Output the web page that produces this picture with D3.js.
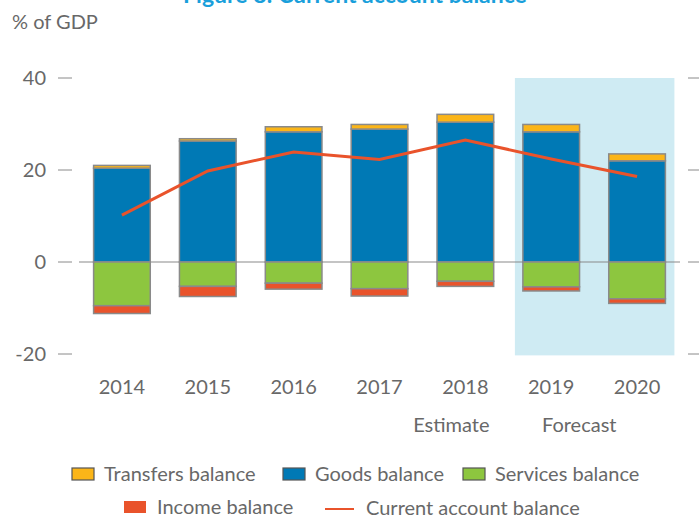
<!DOCTYPE html>
<meta charset="utf-8">
<script src="https://d3js.org/d3.v7.min.js"></script>
<style>
  body { margin: 0; background: #fff; }
  text { font-family: Lato, "Open Sans", sans-serif; fill: #686868; }
</style>
<div id="my_dataviz"></div>
<script>

  // data (% of GDP)
  var years = ["2014", "2015", "2016", "2017", "2018", "2019", "2020"];
  var goods = [20.4, 26.3, 28.3, 28.9, 30.4, 28.3, 22.0];
  var transfers = [0.6, 0.5, 1.1, 1.0, 1.7, 1.6, 1.5];
  var services = [-9.5, -5.3, -4.6, -5.8, -4.2, -5.4, -8.0];
  var income = [-1.7, -2.2, -1.3, -1.6, -1.1, -0.9, -1.0];
  var currentAccount = [10.2, 19.8, 23.9, 22.3, 26.5, 22.4, 18.6];
  var yTicks = [-20, 0, 20, 40];
  var forecastYears = ["2019", "2020"];

  var width = 699, height = 517;

  var svg = d3.select("#my_dataviz")
    .append("svg")
    .attr("width", width)
    .attr("height", height);

  var x = d3.scaleBand()
    .domain(years)
    .range([79, 680])
    .paddingInner(0.34)
    .paddingOuter(0.17);

  var y = d3.scaleLinear()
    .domain([-20, 40])
    .range([354, 78]);

  // forecast shading
  svg.append("rect")
    .attr("x", x(forecastYears[0]) - 8)
    .attr("y", y(40))
    .attr("width", x(forecastYears[1]) + x.bandwidth() + 9 - (x(forecastYears[0]) - 8))
    .attr("height", y(-20.3) - y(40))
    .style("fill", "#cfebf3");

  // title (clipped at the top like the reference)
  svg.append("text")
    .attr("x", 355)
    .attr("y", 3)
    .attr("text-anchor", "middle")
    .style("font-size", "23px")
    .style("font-weight", "bold")
    .style("fill", "#1a9fdb")
    .text("Figure 8:  Current account balance");

  svg.append("text")
    .attr("x", 12)
    .attr("y", 29)
    .style("font-size", "20px")
    .text("% of GDP");

  // left axis: labels and short ticks
  var yAxis = svg.append("g");
  yAxis.selectAll("line.l")
    .data(yTicks)
    .enter()
    .append("line")
    .attr("x1", 58).attr("x2", 72)
    .attr("y1", function (d) { return y(d); })
    .attr("y2", function (d) { return y(d); })
    .style("stroke", "#8a8a8a");
  yAxis.selectAll("line.r")
    .data(yTicks)
    .enter()
    .append("line")
    .attr("x1", 688).attr("x2", 699)
    .attr("y1", function (d) { return y(d); })
    .attr("y2", function (d) { return y(d); })
    .style("stroke", "#8a8a8a");
  yAxis.selectAll("text")
    .data(yTicks)
    .enter()
    .append("text")
    .attr("x", 46)
    .attr("y", function (d) { return y(d); })
    .attr("dy", "0.35em")
    .attr("text-anchor", "end")
    .style("font-size", "20px")
    .text(function (d) { return d; });

  // zero line
  svg.append("line")
    .attr("x1", x.range()[0]).attr("x2", x.range()[1])
    .attr("y1", y(0)).attr("y2", y(0))
    .style("stroke", "#8a8a8a")
    .style("stroke-width", 1.2);

  // stacked bars
  var rows = years.map(function (yr, i) {
    return { year: yr, goods: goods[i], transfers: transfers[i], services: services[i], income: income[i] };
  });
  var keys = ["goods", "transfers", "services", "income"];
  var colors = { goods: "#0079b5", transfers: "#fbb518", services: "#8dc63f", income: "#e9532b" };

  var stacked = d3.stack().keys(keys).offset(d3.stackOffsetDiverging)(rows);

  svg.append("g")
    .selectAll("g")
    .data(stacked)
    .enter()
    .append("g")
    .style("fill", function (d) { return colors[d.key]; })
    .selectAll("rect")
    .data(function (d) { return d; })
    .enter()
    .append("rect")
    .attr("x", function (d) { return x(d.data.year); })
    .attr("y", function (d) { return y(Math.max(d[0], d[1])); })
    .attr("height", function (d) { return Math.abs(y(d[0]) - y(d[1])); })
    .attr("width", x.bandwidth())
    .style("stroke", "#8a8a8a")
    .style("stroke-width", 1.5);

  // current account line
  var line = d3.line()
    .x(function (d, i) { return x(years[i]) + x.bandwidth() / 2; })
    .y(function (d) { return y(d); });

  svg.append("path")
    .datum(currentAccount)
    .attr("d", line)
    .style("fill", "none")
    .style("stroke", "#e9532b")
    .style("stroke-width", 3);

  // x labels
  svg.append("g")
    .selectAll("text")
    .data(years)
    .enter()
    .append("text")
    .attr("x", function (d) { return x(d) + x.bandwidth() / 2; })
    .attr("y", 394)
    .attr("text-anchor", "middle")
    .style("font-size", "20px")
    .text(function (d) { return d; });

  svg.append("text")
    .attr("x", x("2018") + x.bandwidth() / 2 - 14)
    .attr("y", 432)
    .attr("text-anchor", "middle")
    .style("font-size", "20px")
    .text("Estimate");

  svg.append("text")
    .attr("x", x("2019") + x.bandwidth() / 2 + 28)
    .attr("y", 432)
    .attr("text-anchor", "middle")
    .style("font-size", "20px")
    .text("Forecast");

  // legend
  var legendItems = [
    { label: "Transfers balance", color: colors.transfers, x: 72, y: 474 },
    { label: "Goods balance", color: colors.goods, x: 283, y: 474 },
    { label: "Services balance", color: colors.services, x: 463, y: 474 },
    { label: "Income balance", color: colors.income, x: 124, y: 507 }
  ];

  var legend = svg.append("g");
  legendItems.forEach(function (d) {
    legend.append("rect")
      .attr("x", d.x)
      .attr("y", d.y - 6)
      .attr("width", 22)
      .attr("height", 12)
      .style("fill", d.color)
      .style("stroke", d.label == "Income balance" ? "none" : "#555")
      .style("stroke-width", 1.2);
    legend.append("text")
      .attr("x", d.x + (d.label == "Income balance" ? 33 : 32))
      .attr("y", d.y)
      .attr("dy", "0.35em")
      .style("font-size", "20px")
      .text(d.label);
  });

  legend.append("line")
    .attr("x1", 325).attr("x2", 354)
    .attr("y1", 509).attr("y2", 509)
    .style("stroke", "#e9532b")
    .style("stroke-width", 2);
  legend.append("text")
    .attr("x", 366)
    .attr("y", 508)
    .attr("dy", "0.35em")
    .style("font-size", "20px")
    .text("Current account balance");

</script>
